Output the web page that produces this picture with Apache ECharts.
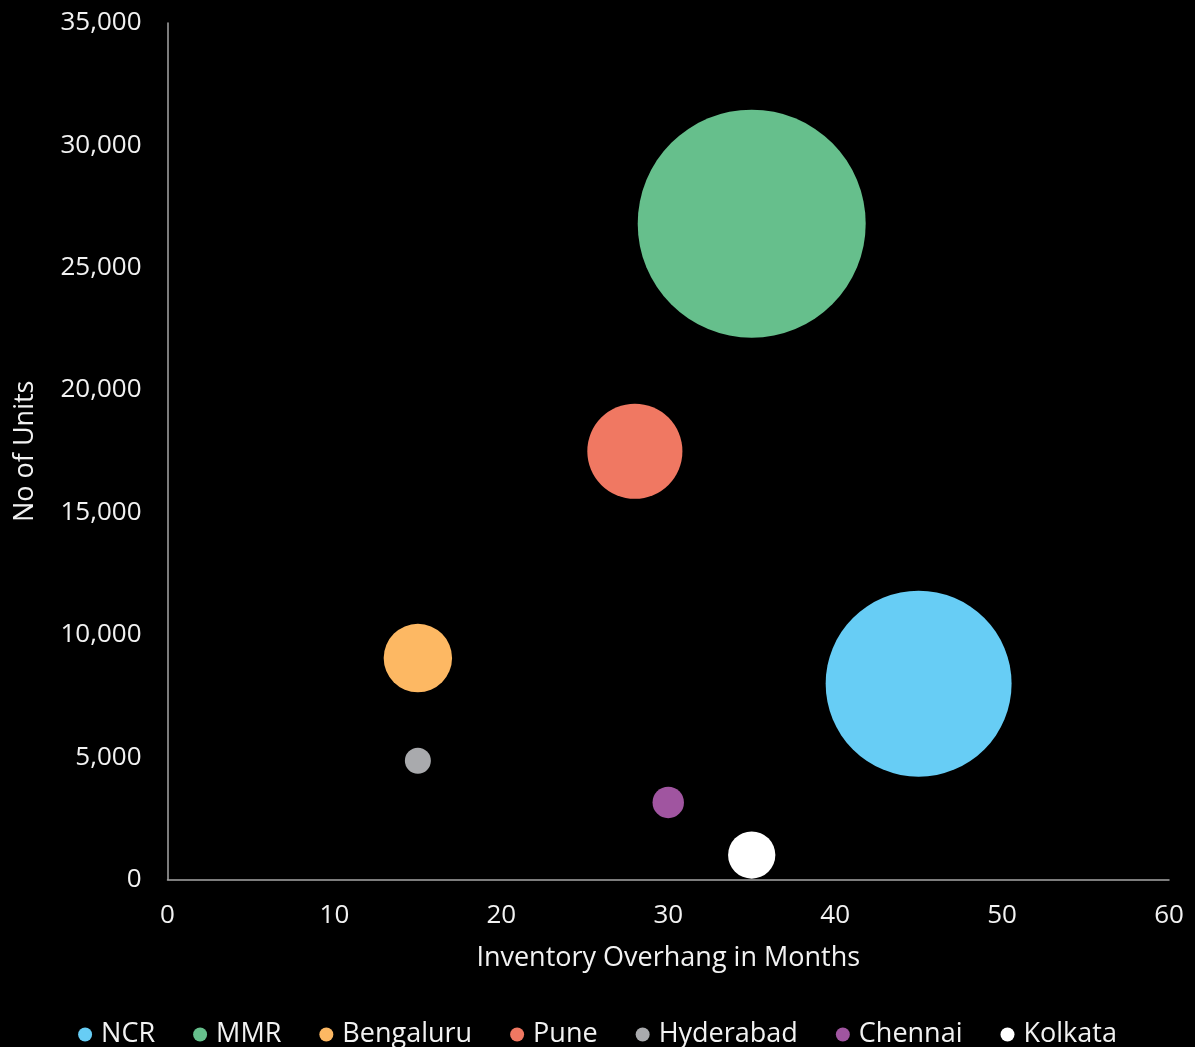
<!DOCTYPE html>
<html>
<head>
<meta charset="utf-8">
<title>Inventory Overhang by City</title>
<script src="https://cdn.jsdelivr.net/npm/echarts@6/dist/echarts.min.js"></script>
<style>
  html, body { margin: 0; padding: 0; background: #000; }
  #chart { width: 1195px; height: 1047px; }
</style>
</head>
<body>
<div id="chart"></div>
<script>
// Cities, in legend order
const cities = ['NCR', 'MMR', 'Bengaluru', 'Pune', 'Hyderabad', 'Chennai', 'Kolkata'];
// Inventory overhang (months)
const overhangMonths = [45, 35, 15, 28, 15, 30, 35];
// Unsold stock (no. of units)
const unsoldUnits = [8000, 26800, 9050, 17500, 4850, 3150, 1000];
// Relative bubble weight (area-proportional)
const bubbleSize = [66.5, 100, 9.0, 17.4, 1.3, 1.9, 4.3];
const cityColors = ['#67cdf5', '#66bf8c', '#fdb863', '#f07862', '#a9aaad', '#a055a0', '#ffffff'];

// Axis ticks
const xTicks = [0, 10, 20, 30, 40, 50, 60];
const yTicks = [0, 5000, 10000, 15000, 20000, 25000, 30000, 35000];

const FONT = '"Open Sans"';
const TEXT_COLOR = '#f2f2f2';
const MAX_BUBBLE_DIAMETER = 228;
const maxWeight = Math.max(...bubbleSize);

const chart = echarts.init(document.getElementById('chart'), null, { renderer: 'canvas' });

const series = cities.map((name, i) => ({
  name: name,
  type: 'scatter',
  data: [[overhangMonths[i], unsoldUnits[i], bubbleSize[i]]],
  symbol: 'circle',
  symbolSize: (val) => MAX_BUBBLE_DIAMETER * Math.sqrt(val[2] / maxWeight),
  itemStyle: { color: cityColors[i], opacity: 1 },
  emphasis: { disabled: true },
  silent: true
}));

chart.setOption({
  backgroundColor: '#000000',
  animation: false,
  textStyle: { fontFamily: FONT, color: TEXT_COLOR },
  grid: {
    left: 167.5,
    right: 26,
    top: 23,
    bottom: 167.5,
    outerBoundsMode: 'none'
  },
  legend: {
    data: cities,
    top: 1016,
    left: 'center',
    icon: 'circle',
    itemWidth: 22,
    itemHeight: 14,
    itemGap: 38,
    textStyle: { color: TEXT_COLOR, fontSize: 27, fontFamily: FONT },
    selectedMode: false
  },
  xAxis: {
    type: 'value',
    min: xTicks[0],
    max: xTicks[xTicks.length - 1],
    interval: xTicks[1] - xTicks[0],
    name: 'Inventory Overhang in Months',
    nameLocation: 'middle',
    nameGap: 65,
    nameTextStyle: { color: TEXT_COLOR, fontSize: 27, fontFamily: FONT },
    axisLine: { show: true, lineStyle: { color: '#a6a6a6', width: 1.5 } },
    axisTick: { show: false },
    splitLine: { show: false },
    axisLabel: { color: TEXT_COLOR, fontSize: 26, fontFamily: FONT, margin: 23 }
  },
  yAxis: {
    type: 'value',
    min: yTicks[0],
    max: yTicks[yTicks.length - 1],
    interval: yTicks[1] - yTicks[0],
    name: 'No of Units',
    nameLocation: 'middle',
    nameGap: 129,
    nameTextStyle: { color: TEXT_COLOR, fontSize: 27, fontFamily: FONT },
    axisLine: { show: true, lineStyle: { color: '#a6a6a6', width: 1.5 } },
    axisTick: { show: false },
    splitLine: { show: false },
    axisLabel: {
      color: TEXT_COLOR,
      fontSize: 26,
      fontFamily: FONT,
      margin: 26,
      formatter: (v) => v.toLocaleString('en-US')
    }
  },
  series: series
});
</script>
</body>
</html>
